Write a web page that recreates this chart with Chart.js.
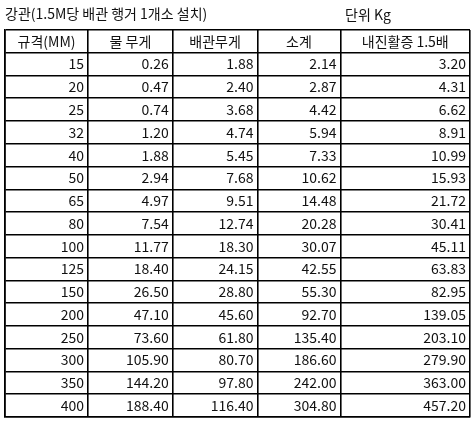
<!DOCTYPE html>
<html>
<head>
<meta charset="utf-8">
<script src="https://cdn.jsdelivr.net/npm/chart.js@4"></script>
<style>
  html, body { margin: 0; padding: 0; background: #fff; }
  #wrap { width: 474px; height: 423px; }
</style>
</head>
<body>
<div id="wrap"><canvas id="tbl"></canvas></div>
<script>
const title = '강관(1.5M당 배관 행거 1개소 설치)';
const unit = '단위 Kg';
const headers = ['규격(MM)', '물 무게', '배관무게', '소계', '내진활증 1.5배'];
const sizes = [15, 20, 25, 32, 40, 50, 65, 80, 100, 125, 150, 200, 250, 300, 350, 400];
const water = [0.26, 0.47, 0.74, 1.20, 1.88, 2.94, 4.97, 7.54, 11.77, 18.40, 26.50, 47.10, 73.60, 105.90, 144.20, 188.40];
const pipe = [1.88, 2.40, 3.68, 4.74, 5.45, 7.68, 9.51, 12.74, 18.30, 24.15, 28.80, 45.60, 61.80, 80.70, 97.80, 116.40];
const subtotal = [2.14, 2.87, 4.42, 5.94, 7.33, 10.62, 14.48, 20.28, 30.07, 42.55, 55.30, 92.70, 135.40, 186.60, 242.00, 304.80];
const seismic = [3.20, 4.31, 6.62, 8.91, 10.99, 15.93, 21.72, 30.41, 45.11, 63.83, 82.95, 139.05, 203.10, 279.90, 363.00, 457.20];

// column edges in axis units (last column is wider)
const colEdges = [0, 1, 2.02, 3.04, 4.04, 5.6];
const nRows = sizes.length + 1;
const font = '14px "Noto Sans CJK KR", "Noto Sans", sans-serif';

const tablePlugin = {
  id: 'tableText',
  afterDraw(chart) {
    const { ctx, scales: { x, y } } = chart;
    ctx.save();
    ctx.font = font;
    ctx.fillStyle = '#111';
    ctx.textBaseline = 'middle';
    ctx.textAlign = 'left';
    ctx.fillText(title, 5, 14);
    ctx.fillText(unit, 345, 15);
    // header
    ctx.textAlign = 'center';
    headers.forEach((h, c) => {
      const cx = (x.getPixelForValue(colEdges[c]) + x.getPixelForValue(colEdges[c + 1])) / 2;
      ctx.fillText(h, cx, y.getPixelForValue(0.5));
    });
    // body
    ctx.textAlign = 'right';
    const cols = [sizes.map(String), water.map(v => v.toFixed(2)), pipe.map(v => v.toFixed(2)),
                  subtotal.map(v => v.toFixed(2)), seismic.map(v => v.toFixed(2))];
    cols.forEach((vals, c) => {
      const rx = x.getPixelForValue(colEdges[c + 1]) - 4;
      vals.forEach((v, r) => ctx.fillText(v, rx, y.getPixelForValue(r + 1.5)));
    });
    ctx.restore();
  }
};

new Chart(document.getElementById('tbl'), {
  type: 'scatter',
  data: { datasets: [{ data: [], pointRadius: 0 }] },
  plugins: [tablePlugin],
  options: {
    responsive: true,
    maintainAspectRatio: false,
    animation: false,
    layout: { padding: { left: 5, right: 4, top: 30, bottom: 6 } },
    plugins: { legend: { display: false }, tooltip: { enabled: false } },
    scales: {
      x: {
        type: 'linear', min: 0, max: colEdges[colEdges.length - 1],
        afterBuildTicks: s => { s.ticks = colEdges.map(v => ({ value: v })); },
        ticks: { display: false },
        grid: { color: '#000', lineWidth: 1.6, drawTicks: false },
        border: { color: '#000', width: 1.6 }
      },
      y: {
        type: 'linear', min: 0, max: nRows, reverse: true,
        afterBuildTicks: s => { s.ticks = Array.from({ length: nRows + 1 }, (_, i) => ({ value: i })); },
        ticks: { display: false },
        grid: { color: '#000', lineWidth: 1.6, drawTicks: false },
        border: { color: '#000', width: 1.6 }
      }
    }
  }
});
</script>
</body>
</html>
